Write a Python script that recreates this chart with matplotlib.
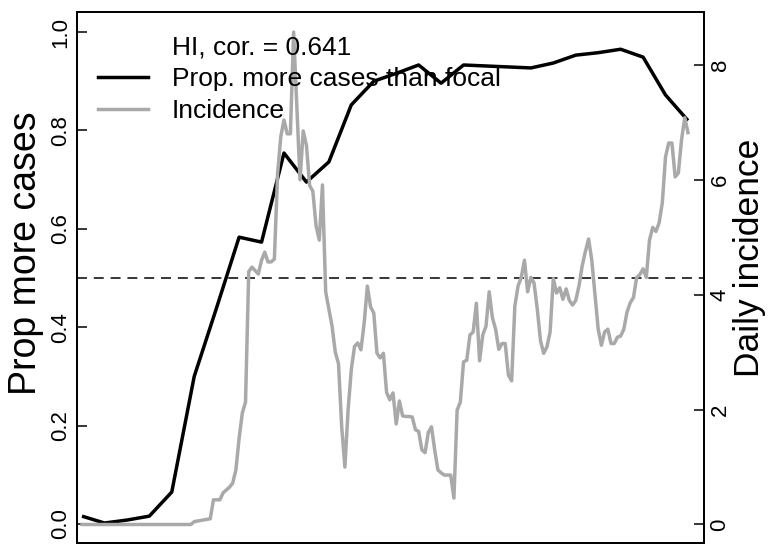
import numpy as np
import matplotlib
matplotlib.use("Agg")
import matplotlib.pyplot as plt
from matplotlib.lines import Line2D

plt.rcParams['font.family'] = ['Liberation Sans', 'DejaVu Sans']

# weekly proportion of places with more cases than the focal one
weeks = list(range(28))
prop_more = [0.016, 0.002, 0.008, 0.016, 0.065, 0.30, 0.44, 0.583, 0.573, 0.754,
             0.695, 0.736, 0.852, 0.90, 0.916, 0.933, 0.896, 0.933, 0.931, 0.929,
             0.927, 0.937, 0.953, 0.958, 0.965, 0.949, 0.872, 0.82]

# daily incidence (day index, value)
inc_days = [0, 34, 35, 40, 41, 43, 44, 45, 46, 47, 48, 49, 50, 51] + list(range(52, 190))
incidence = [0.0, 0.0, 0.05, 0.10, 0.43, 0.43, 0.55, 0.60, 0.65, 0.72, 0.95, 1.5, 1.94, 2.13,
             # 52-61
             4.40, 4.48, 4.42, 4.36, 4.60, 4.74, 4.57, 4.57, 4.62, 6.10,
             # 62-71
             6.75, 7.04, 6.80, 6.80, 8.57, 7.30, 6.00, 6.85, 6.60, 5.90,
             # 72-81
             5.80, 5.20, 4.95, 5.91, 4.05, 3.75, 3.45, 3.00, 2.80, 1.70,
             # 82-91
             1.00, 2.00, 2.70, 3.10, 3.16, 3.04, 3.50, 4.15, 3.79, 3.68,
             # 92-101
             2.98, 2.90, 2.98, 2.30, 2.17, 2.29, 1.75, 2.15, 1.89, 1.88,
             # 102-111
             1.88, 1.87, 1.65, 1.62, 1.30, 1.25, 1.60, 1.70, 1.30, 0.95,
             # 112-121
             0.90, 0.86, 0.86, 0.86, 0.46, 1.99, 2.13, 2.83, 2.86, 3.30,
             # 122-131
             3.35, 3.85, 2.85, 3.30, 3.45, 4.05, 3.60, 3.40, 3.05, 3.15,
             # 132-141
             3.15, 2.60, 2.50, 3.80, 4.15, 4.30, 4.60, 4.05, 4.30, 4.20,
             # 142-151
             3.75, 3.20, 2.98, 3.09, 3.35, 4.28, 4.03, 4.12, 3.92, 4.10,
             # 152-161
             3.90, 3.82, 3.90, 4.15, 4.50, 4.75, 4.97, 4.60, 4.00, 3.40,
             # 162-171
             3.12, 3.35, 3.40, 3.15, 3.15, 3.26, 3.28, 3.40, 3.70, 3.86,
             # 172-181
             3.95, 4.30, 4.35, 4.45, 4.30, 4.95, 5.17, 5.10, 5.25, 5.60,
             # 182-189
             6.40, 6.64, 6.64, 6.05, 6.12, 6.70, 7.08, 6.82]

left_ticks = [0.0, 0.2, 0.4, 0.6, 0.8, 1.0]
right_ticks = [0, 2, 4, 6, 8]
cor_label = "HI, cor. = 0.641"

fig = plt.figure(figsize=(7.68, 5.45), dpi=100)
ax = fig.add_axes([77 / 768, 2 / 545, 627 / 768, 531 / 545])

ax.plot(np.array(weeks) * 7, prop_more, color='black', lw=2.5, solid_capstyle='butt')
ax.axhline(0.5, color='black', lw=1.1, ls=(0, (6.5, 4.5)))
ax.set_xlim(-1.56, 194.0)
ax.set_ylim(-0.0386, 1.0407)
ax.set_xticks([])
ax.set_yticks(left_ticks)
ax.set_yticklabels([f"{t:.1f}" for t in left_ticks])
ax.tick_params(axis='y', direction='in', length=7.5, width=1.1, labelsize=16, pad=4)
for lab in ax.get_yticklabels():
    lab.set_rotation(90)
    lab.set_va('center')
ax.set_ylabel("Prop more cases", fontsize=27)
ax.yaxis.set_label_coords(-0.053, 0.546)

ax2 = ax.twinx()
ax2.plot(inc_days, incidence, color='#a9a9a9', lw=2.5)
ax2.set_ylim(-0.322, 8.92)
ax2.set_yticks(right_ticks)
ax2.set_yticklabels([str(t) for t in right_ticks])
ax2.tick_params(axis='y', direction='in', length=7.5, width=1.1, labelsize=16, pad=4)
for lab in ax2.get_yticklabels():
    lab.set_rotation(90)
    lab.set_va('center')
ax2.set_ylabel("Daily incidence", fontsize=25.5)
ax2.yaxis.set_label_coords(1.047, 0.537)

for a in (ax, ax2):
    for s in a.spines.values():
        s.set_linewidth(1.3)

handles = [Line2D([], [], color='none'),
           Line2D([], [], color='black', lw=2.5),
           Line2D([], [], color='#a9a9a9', lw=2.5)]
labels = [cor_label, "Prop. more cases than focal", "Incidence"]
ax2.legend(handles, labels, loc='upper left', bbox_to_anchor=(98 / 768, 1 - 35 / 545),
           bbox_transform=fig.transFigure, frameon=False, fontsize=19,
           borderpad=0, borderaxespad=0, handlelength=1.9, handletextpad=0.9,
           labelspacing=0.3)

fig.savefig("out.png", dpi=100)
